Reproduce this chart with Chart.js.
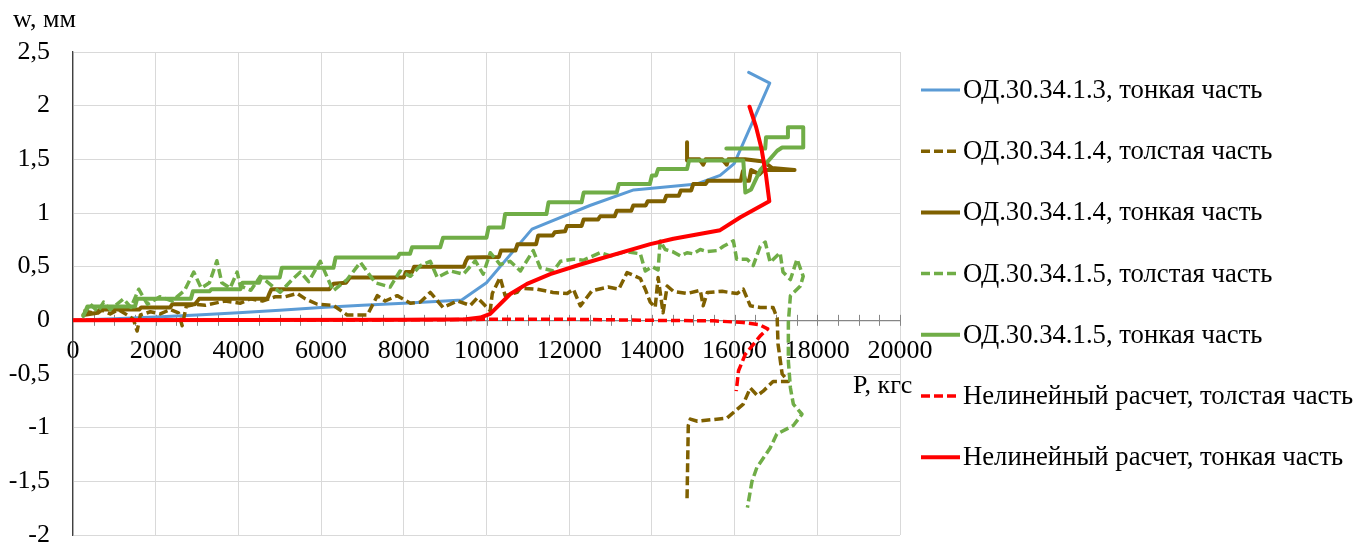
<!DOCTYPE html>
<html>
<head>
<meta charset="utf-8">
<script src="https://cdn.jsdelivr.net/npm/chart.js@4.4.1/dist/chart.umd.min.js"></script>
<style>
  html, body { margin: 0; padding: 0; background: #ffffff; }
  #wrap { width: 1367px; height: 544px; position: relative; }
</style>
</head>
<body>
<div id="wrap"><canvas id="c" width="1367" height="544"></canvas></div>
<script>
// Load P (kgf) and deflection w (mm) for each measured / computed curve, as [P, w] pairs.
const seriesNames = [
  'ОД.30.34.1.3, тонкая часть',
  'ОД.30.34.1.4, толстая часть',
  'ОД.30.34.1.4, тонкая часть',
  'ОД.30.34.1.5, толстая часть',
  'ОД.30.34.1.5, тонкая часть',
  'Нелинейный расчет, толстая часть',
  'Нелинейный расчет, тонкая часть'
];

const od13Thin = [
  [0,0],[1000,0.015],[2000,0.03],[3000,0.05],[4000,0.07],[5000,0.095],[6000,0.12],[7000,0.14],
  [8000,0.16],[9000,0.18],[9400,0.19],[10000,0.35],[11100,0.85],[12500,1.07],[13560,1.215],
  [15090,1.27],[15650,1.35],[15990,1.46],[16850,2.21],[16340,2.31]
];

const od14Thick = [
  [250,0.09],[470,0.07],[660,0.10],[900,0.06],[1100,0.10],[1310,0.05],[1460,0.01],[1550,-0.10],
  [1630,0.05],[1870,0.08],[2110,0.06],[2350,0.10],[2550,0.07],[2640,-0.05],[2740,0.13],[2960,0.15],
  [3200,0.14],[3440,0.16],[3680,0.18],[4050,0.16],[4290,0.20],[4580,0.18],[4890,0.22],[5130,0.22],
  [5420,0.25],[5620,0.20],[5910,0.15],[6290,0.14],[6630,0.05],[7120,0.05],[7360,0.23],[7550,0.18],
  [7840,0.23],[8160,0.16],[8400,0.17],[8640,0.26],[8950,0.12],[9290,0.18],[9610,0.14],[9780,0.21],
  [10090,0.09],[10140,0.25],[10330,0.40],[10450,0.23],[10740,0.26],[10820,0.30],[11230,0.29],
  [11610,0.26],[11950,0.25],[12100,0.29],[12270,0.135],[12550,0.275],[12940,0.31],[13200,0.29],
  [13400,0.445],[13720,0.39],[13840,0.29],[13960,0.17],[14080,0.12],[14150,0.40],[14270,0.07],
  [14370,0.32],[14520,0.27],[14850,0.25],[15170,0.28],[15240,0.135],[15340,0.26],[15700,0.27],
  [16060,0.25],[16210,0.29],[16380,0.135],[16620,0.12],[16930,0.12],[17030,0.02],[17050,-0.22],
  [17150,-0.50],[17300,-0.57],[16930,-0.57],[16690,-0.66],[16550,-0.70],[16380,-0.63],[16210,-0.78],
  [15820,-0.91],[15100,-0.94],[14930,-0.92],[14880,-0.98],[14850,-1.66]
];

const od14Thin = [
  [250,0.05],[600,0.07],[700,0.10],[1600,0.10],[1650,0.12],[2350,0.12],[2400,0.15],[2950,0.15],
  [3050,0.20],[4700,0.20],[4750,0.25],[4800,0.29],[6200,0.29],[6300,0.34],[6600,0.35],[6700,0.40],
  [8000,0.40],[8050,0.45],[8200,0.45],[8250,0.50],[9450,0.50],[9500,0.55],[9550,0.585],[10300,0.59],
  [10350,0.65],[10700,0.65],[10750,0.71],[11200,0.71],[11250,0.79],[11600,0.79],[11650,0.82],
  [11900,0.83],[11950,0.88],[12300,0.88],[12350,0.94],[12700,0.94],[12750,0.97],[13100,0.97],
  [13150,1.02],[13500,1.02],[13550,1.07],[13850,1.07],[13900,1.11],[14300,1.11],[14350,1.16],
  [14650,1.16],[14700,1.21],[14950,1.21],[15000,1.27],[15300,1.27],[15350,1.30],[16150,1.30],
  [16200,1.39],[16260,1.30],[16350,1.30],[16400,1.40],[16600,1.36],[16700,1.40],[17450,1.40],
  [16900,1.42],[16700,1.48],[16250,1.50],[15850,1.50],[15810,1.45],[15700,1.50],[15300,1.50],
  [15240,1.45],[15150,1.50],[14900,1.50],[14850,1.49],[14850,1.66]
];

const od15Thick = [
  [250,0.05],[420,0.15],[600,0.08],[740,0.17],[900,0.10],[1220,0.20],[1400,0.12],[1590,0.29],
  [1800,0.15],[2100,0.22],[2400,0.18],[2700,0.28],[2920,0.45],[3100,0.30],[3300,0.35],[3480,0.555],
  [3600,0.35],[3800,0.30],[3970,0.45],[4045,0.32],[4300,0.28],[4530,0.41],[5010,0.26],[5300,0.38],
  [5500,0.45],[5700,0.36],[5980,0.55],[6290,0.275],[6630,0.38],[6950,0.54],[7310,0.35],[7670,0.31],
  [7910,0.46],[8160,0.41],[8400,0.51],[8640,0.55],[8810,0.40],[9120,0.46],[9440,0.43],[9730,0.555],
  [9920,0.43],[10090,0.63],[10330,0.52],[10570,0.55],[10820,0.46],[11130,0.65],[11300,0.49],
  [11620,0.46],[11790,0.55],[12100,0.57],[12340,0.56],[12750,0.63],[13000,0.60],[13360,0.64],
  [13720,0.62],[13840,0.46],[14010,0.50],[14150,0.47],[14200,0.74],[14320,0.66],[14500,0.64],
  [14690,0.60],[14850,0.63],[15000,0.62],[15170,0.66],[15340,0.64],[15580,0.65],[15730,0.69],
  [15970,0.74],[16050,0.57],[16300,0.57],[16450,0.51],[16620,0.69],[16740,0.73],[16860,0.54],
  [17100,0.63],[17170,0.45],[17350,0.38],[17510,0.57],[17660,0.41],[17590,0.32],[17350,0.23],
  [17300,-0.02],[17300,-0.38],[17350,-0.63],[17420,-0.78],[17630,-0.875],[17420,-0.98],[17020,-1.06],
  [16860,-1.19],[16540,-1.37],[16420,-1.50],[16310,-1.745]
];

const od15Thin = [
  [250,0.04],[350,0.13],[1500,0.13],[1550,0.20],[2850,0.20],[2900,0.27],[3300,0.27],[3350,0.29],
  [4050,0.29],[4100,0.35],[4500,0.35],[4550,0.40],[5000,0.40],[5050,0.49],[6300,0.49],[6350,0.585],
  [7850,0.585],[7900,0.62],[8150,0.62],[8200,0.68],[8880,0.68],[8950,0.77],[10000,0.77],[10050,0.865],
  [10400,0.865],[10450,0.99],[11450,0.99],[11500,1.10],[12300,1.10],[12350,1.19],[13150,1.19],
  [13200,1.27],[13950,1.27],[14000,1.35],[14100,1.35],[14150,1.41],[14850,1.41],[14900,1.49],
  [16210,1.49],[16260,1.19],[16400,1.22],[16620,1.40],[17030,1.58],[17150,1.61],[17660,1.61],
  [17660,1.80],[17290,1.80],[17290,1.705],[16760,1.705],[16740,1.60],[15800,1.60]
];

const calcThick = [
  [0,0],[9000,0.005],[10000,0.01],[12000,0.01],[14000,0.0],[15500,-0.005],[16200,-0.02],
  [16600,-0.04],[16800,-0.08],[16620,-0.145],[16260,-0.315],[16095,-0.47],[16040,-0.66]
];

const calcThin = [
  [0,0],[8000,0.005],[9500,0.01],[9850,0.026],[10090,0.06],[10575,0.245],[10980,0.34],[11540,0.43],
  [12270,0.52],[13960,0.71],[14520,0.76],[15650,0.84],[16140,0.96],[16840,1.11],[16760,1.35],
  [16650,1.60],[16520,1.80],[16360,1.99]
];

const xTickValues = [0, 20000, 2000];   // min, max, step
const yTickValues = [-2, 2.5, 0.5];     // min, max, step
const xMinorStep = 500;
const xTitle = 'P, кгс';
const yTitle = 'w, мм';

const seriesData = [od13Thin, od14Thick, od14Thin, od15Thick, od15Thin, calcThick, calcThin];
const seriesColors = ['#5B9BD5', '#7F6000', '#7F6000', '#70AD47', '#70AD47', '#FF0000', '#FF0000'];
const seriesDashed = [false, true, false, true, false, true, false];
const seriesWidths = [3, 3.5, 4, 3.5, 4, 3.5, 4];

const FONT = "'Liberation Serif', 'Times New Roman', serif";
Chart.defaults.font.family = FONT;
Chart.defaults.color = '#000000';

const datasets = seriesData.map((pts, i) => ({
  label: seriesNames[i],
  data: pts.map(([x, y]) => ({ x, y })),
  showLine: true,
  borderColor: seriesColors[i],
  backgroundColor: seriesColors[i],
  borderWidth: seriesWidths[i],
  borderDash: seriesDashed[i] ? [9, 4] : [],
  borderJoinStyle: 'round',
  borderCapStyle: seriesDashed[i] ? 'butt' : 'round',
  pointRadius: 0,
  pointHoverRadius: 0,
  tension: 0,
  fill: false,
  order: seriesData.length - 1 - i
}));

// Small cross ticks on the zero axis line every 500 kgf
const minorTicks = {
  id: 'minorTicks',
  beforeDatasetsDraw(chart) {
    const { ctx, scales: { x, y } } = chart;
    const y0 = y.getPixelForValue(0);
    ctx.save();
    ctx.strokeStyle = '#868686';
    ctx.lineWidth = 1;
    for (let v = xTickValues[0] + xMinorStep; v <= xTickValues[1]; v += xMinorStep) {
      const px = Math.round(x.getPixelForValue(v)) + 0.5;
      ctx.beginPath();
      ctx.moveTo(px, y0 - 5.5);
      ctx.lineTo(px, y0 + 5.5);
      ctx.stroke();
    }
    ctx.restore();
  }
};

// Axis titles and the legend at the right
const annotations = {
  id: 'annotations',
  afterDraw(chart) {
    const { ctx } = chart;
    ctx.save();
    ctx.fillStyle = '#000000';
    ctx.font = '26px ' + FONT;
    ctx.textBaseline = 'alphabetic';
    ctx.textAlign = 'left';
    ctx.fillText(yTitle, 13, 27);
    ctx.fillText(xTitle, 853, 393);

    ctx.font = '26.7px ' + FONT;
    ctx.textBaseline = 'middle';
    chart.data.datasets.forEach((ds, i) => {
      const cy = 90 + i * 61.2;
      ctx.beginPath();
      ctx.setLineDash(ds.borderDash || []);
      ctx.lineCap = 'butt';
      ctx.strokeStyle = ds.borderColor;
      ctx.lineWidth = ds.borderWidth;
      ctx.moveTo(921, cy);
      ctx.lineTo(960, cy);
      ctx.stroke();
      ctx.setLineDash([]);
      ctx.fillText(ds.label, 963, cy + 1);
    });
    ctx.restore();
  }
};

new Chart(document.getElementById('c'), {
  type: 'scatter',
  data: { datasets },
  plugins: [minorTicks, annotations],
  options: {
    responsive: false,
    animation: false,
    devicePixelRatio: 1,
    layout: { padding: { left: 0, top: 52, right: 467, bottom: 9 } },
    plugins: {
      legend: { display: false },
      tooltip: { enabled: false }
    },
    scales: {
      x: {
        type: 'linear',
        position: { y: 0 },
        min: xTickValues[0],
        max: xTickValues[1],
        ticks: {
          stepSize: xTickValues[2],
          padding: 15,
          maxRotation: 0,
          autoSkip: false,
          color: '#000000',
          font: { size: 26, family: FONT },
          callback: (v) => String(v)
        },
        grid: { color: '#D9D9D9', lineWidth: 1, drawTicks: false },
        border: { color: '#868686', width: 1.3 },
        afterFit(s) { s.paddingLeft = 0; s.paddingRight = 0; }
      },
      y: {
        type: 'linear',
        position: 'left',
        min: yTickValues[0],
        max: yTickValues[1],
        ticks: {
          stepSize: yTickValues[2],
          padding: 23,
          color: '#000000',
          font: { size: 26, family: FONT },
          callback: (v) => String(Math.round(v * 10) / 10).replace('.', ',')
        },
        grid: { color: '#D9D9D9', lineWidth: 1, drawTicks: false },
        border: { color: '#404040', width: 1.3 },
        afterFit(s) { s.width = 73; s.paddingTop = 0; s.paddingBottom = 0; }
      }
    }
  }
});
</script>
</body>
</html>
